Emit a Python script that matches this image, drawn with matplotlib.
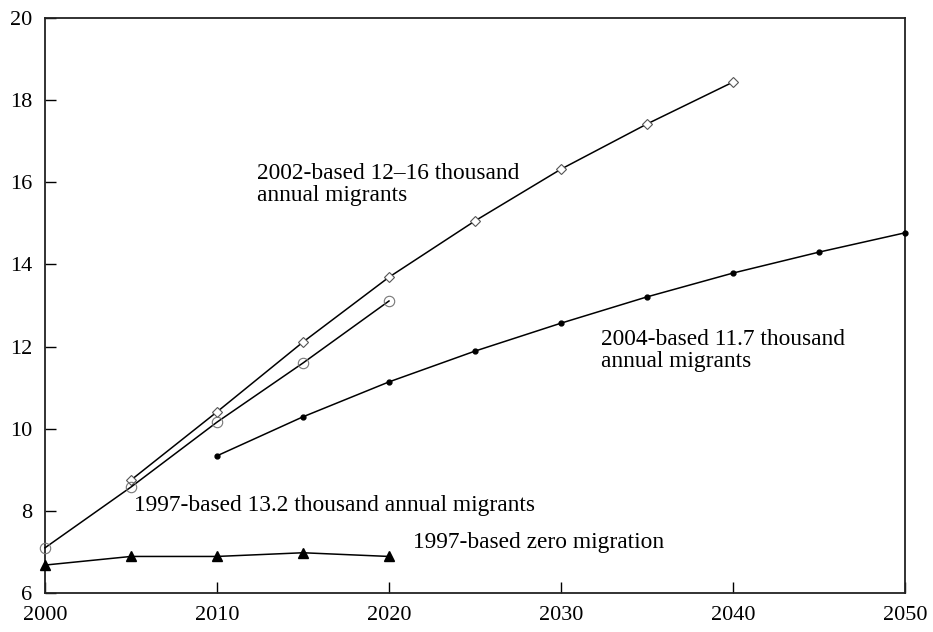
import matplotlib
matplotlib.use("Agg")
import matplotlib.pyplot as plt

plt.rcParams['font.family'] = ['Liberation Serif', 'DejaVu Serif']

# population projections (thousands), by projection basis
years_2002 = [2005, 2010, 2015, 2020, 2025, 2030, 2035, 2040]
pop_2002 = [8.75, 10.41, 12.11, 13.69, 15.06, 16.32, 17.42, 18.44]

years_1997 = [2000, 2005, 2010, 2015, 2020]
pop_1997 = [7.10, 8.58, 10.16, 11.60, 13.11]

years_2004 = [2010, 2015, 2020, 2025, 2030, 2035, 2040, 2045, 2050]
pop_2004 = [9.34, 10.29, 11.14, 11.89, 12.57, 13.21, 13.79, 14.30, 14.77]

years_zero = [2000, 2005, 2010, 2015, 2020]
pop_zero = [6.68, 6.89, 6.89, 6.98, 6.89]

xticks = [2000, 2010, 2020, 2030, 2040, 2050]
yticks = [6, 8, 10, 12, 14, 16, 18, 20]

fig = plt.figure(figsize=(9.33, 6.32), dpi=100)
ax = fig.add_axes([0.0482, 0.0617, 0.9218, 0.9098])

ax.plot(years_2002, pop_2002, color='black', lw=1.1, marker='D', ms=5.5,
        mfc='white', mec='#555555', mew=0.8, clip_on=False, zorder=3)
ax.plot(years_1997, pop_1997, color='black', lw=1.1, marker='o', ms=7.5,
        mfc='none', mec='#777777', mew=0.8, clip_on=False, zorder=3)
ax.plot(years_2004, pop_2004, color='black', lw=1.1, marker='o', ms=3.5,
        mfc='black', mec='black', clip_on=False, zorder=3)
ax.plot(years_zero, pop_zero, color='black', lw=1.1, marker='^', ms=6.5,
        mfc='black', mec='black', clip_on=False, zorder=3)

ax.set_xlim(2000, 2050)
ax.set_ylim(6, 20)
ax.set_xticks(xticks)
ax.set_yticks(yticks)
ax.tick_params(direction='in', length=8, width=1.0, labelsize=16, pad=9,
               top=False, right=False)
for s in ax.spines.values():
    s.set_linewidth(1.3)
    s.set_color('#222222')

fs = 16.8
ax.text(2012.3, 15.95, "2002-based 12\u201316 thousand\nannual migrants",
        fontsize=fs, va='center', ha='left', linespacing=1.1)
ax.text(2032.3, 11.9, "2004-based 11.7 thousand\nannual migrants",
        fontsize=fs, va='center', ha='left', linespacing=1.1)
ax.text(2005.2, 8.12, "1997-based 13.2 thousand annual migrants",
        fontsize=fs, va='center', ha='left')
ax.text(2021.4, 7.23, "1997-based zero migration",
        fontsize=fs, va='center', ha='left')

fig.savefig("out.png", dpi=100)
